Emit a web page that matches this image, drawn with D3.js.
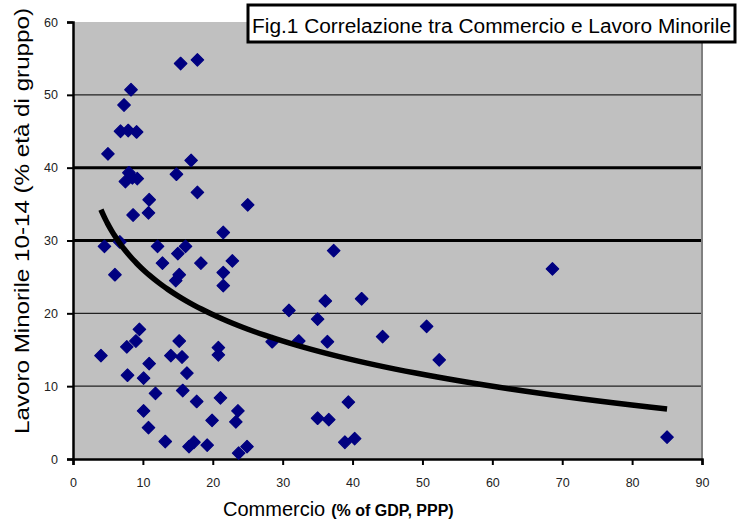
<!DOCTYPE html>
<html>
<head>
<meta charset="utf-8">
<script src="https://cdn.jsdelivr.net/npm/d3@7"></script>
<style>
  html, body { margin: 0; padding: 0; background: #fff; }
  svg { display: block; font-family: Arial, "Liberation Sans", sans-serif; }
</style>
</head>
<body>
<svg id="chart" width="740" height="519"></svg>
<script>
// ---- data ----
const commercio = [15.4, 17.8, 8.3, 7.3, 6.8, 7.9, 9.1, 5.0, 8.0, 7.5, 8.5, 9.2, 14.8, 16.9, 17.8, 10.9, 10.8, 8.6, 25.0, 21.5,
  37.3, 4.5, 6.7, 12.1, 15.0, 16.1, 18.3, 12.8, 22.8, 6.0, 15.2, 14.7, 21.5, 21.5, 30.9, 36.1, 41.3, 35.0, 36.4, 28.5,
  32.3, 44.3, 50.6, 52.4, 68.6, 85.0, 39.4, 35.0, 36.6, 38.9, 40.3, 9.5, 9.0, 7.7, 4.0, 15.2, 14.0, 15.6, 10.9, 7.8,
  10.1, 16.3, 11.8, 15.7, 10.1, 10.8, 13.2, 16.6, 17.3, 19.2, 17.7, 20.8, 20.8, 21.1, 19.9, 23.6, 23.3, 23.7, 24.9];
const lavoro = [54.3, 54.8, 50.7, 48.6, 45.0, 45.1, 44.9, 41.9, 39.3, 38.1, 38.6, 38.5, 39.1, 41.0, 36.6, 35.6, 33.8, 33.5, 34.9, 31.1,
  28.6, 29.2, 29.8, 29.2, 28.2, 29.2, 26.9, 26.9, 27.2, 25.3, 25.3, 24.5, 25.6, 23.8, 20.4, 21.7, 22.0, 19.2, 16.1, 16.1,
  16.2, 16.8, 18.2, 13.6, 26.1, 3.0, 7.8, 5.6, 5.4, 2.3, 2.8, 17.8, 16.2, 15.4, 14.2, 16.2, 14.2, 14.0, 13.1, 11.5,
  11.1, 11.8, 9.0, 9.4, 6.6, 4.3, 2.4, 1.7, 2.3, 1.9, 7.9, 15.3, 14.3, 8.4, 5.3, 6.6, 5.1, 0.8, 1.7];
const xTicks = [0, 10, 20, 30, 40, 50, 60, 70, 80, 90];
const yTicks = [0, 10, 20, 30, 40, 50, 60];
const titleText = "Fig.1 Correlazione tra Commercio e Lavoro Minorile";
const yLabel = "Lavoro Minorile 10-14 (% età di gruppo)";
const xLabelMain = "Commercio";
const xLabelSub = "(% of GDP, PPP)";

const points = commercio.map((c, i) => ({ x: c, y: lavoro[i] }));

// logarithmic trendline (least squares on ln x), like the spreadsheet trendline
const lx = points.map(p => Math.log(p.x));
const mx = d3.mean(lx), my = d3.mean(points, p => p.y);
const slope = d3.sum(points, (p, i) => (lx[i] - mx) * (p.y - my)) / d3.sum(lx, v => (v - mx) * (v - mx));
const intercept = my - slope * mx;
const [xmin, xmax] = d3.extent(commercio);
const trend = d3.range(0, 101).map(k => {
  const xv = xmin * Math.pow(xmax / xmin, k / 100);
  return { x: xv, y: intercept + slope * Math.log(xv) };
});

// ---- layout ----
const svg = d3.select("#chart");
const L = 73, R = 702, T = 22, B = 459;
const x = d3.scaleLinear().domain([0, 90]).range([L, R]);
const y = d3.scaleLinear().domain([0, 60]).range([B, T]);

svg.append("rect").attr("x", L).attr("y", T).attr("width", R - L).attr("height", B - T).attr("fill", "#c0c0c0");

// gridlines
svg.append("g").selectAll("line").data(yTicks.filter(v => v > 0 && v < 60)).join("line")
  .attr("x1", L).attr("x2", R).attr("y1", d => y(d)).attr("y2", d => y(d))
  .attr("stroke", d => (d === 30 || d === 40) ? "#000" : "#222")
  .attr("stroke-width", d => (d === 30 || d === 40) ? 3 : 1.4);

// right border
svg.append("line").attr("x1", R).attr("x2", R).attr("y1", T).attr("y2", B)
  .attr("stroke", "#808080").attr("stroke-width", 2);

// axes
const yAxis = d3.axisLeft(y).tickValues(yTicks).tickSize(6).tickPadding(9).tickFormat(d3.format("d"));
const xAxis = d3.axisBottom(x).tickValues(xTicks).tickSize(6).tickPadding(13).tickFormat(d3.format("d"));
const gy = svg.append("g").attr("transform", `translate(${L},0)`).call(yAxis);
const gx = svg.append("g").attr("transform", `translate(0,${B})`).call(xAxis);
[gx, gy].forEach(g => {
  g.select(".domain").attr("stroke", "#000").attr("stroke-width", 2.5);
  g.selectAll(".tick line").attr("stroke", "#000").attr("stroke-width", 2);
  g.selectAll(".tick text").attr("font-size", 12.5).attr("fill", "#222")
    .attr("font-family", "Arial, 'Liberation Sans', sans-serif");
});

// points
svg.append("g").selectAll("path").data(points).join("path")
  .attr("d", d3.symbol().type(d3.symbolSquare).size(78))
  .attr("transform", d => `translate(${x(d.x)},${y(d.y)}) rotate(45)`)
  .attr("fill", "#000080")
  .attr("stroke", "#000080").attr("stroke-width", 1.2).attr("stroke-linejoin", "round");

// trendline
svg.append("path").datum(trend)
  .attr("d", d3.line().x(d => x(d.x)).y(d => y(d.y)))
  .attr("fill", "none").attr("stroke", "#000").attr("stroke-width", 5.5);

// title box
svg.append("rect").attr("x", 248).attr("y", 5).attr("width", 487).attr("height", 37)
  .attr("fill", "#fff").attr("stroke", "#000").attr("stroke-width", 3);
svg.append("text").attr("x", 252).attr("y", 33).attr("font-size", 20)
  .attr("textLength", 479).attr("lengthAdjust", "spacingAndGlyphs").text(titleText);

// y label
svg.append("text").attr("transform", "translate(28.5,221) rotate(-90)")
  .attr("text-anchor", "middle").attr("font-size", 21)
  .attr("textLength", 426).attr("lengthAdjust", "spacingAndGlyphs").text(yLabel);

// x label
const xl = svg.append("text").attr("x", 223).attr("y", 516);
xl.append("tspan").attr("font-size", 20).text(xLabelMain);
xl.append("tspan").attr("dx", 6).attr("font-size", 16).attr("font-weight", "bold").text(xLabelSub);
</script>
</body>
</html>
